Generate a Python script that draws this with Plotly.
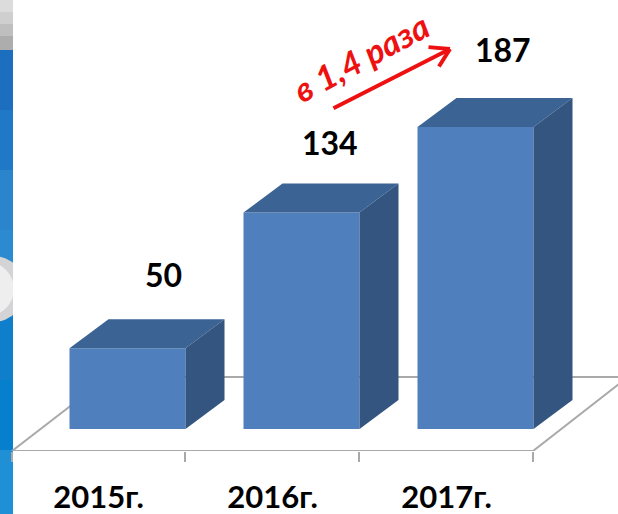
import plotly.graph_objects as go

categories = ["2015г.", "2016г.", "2017г."]
values = [50, 134, 187]
note_text = "в 1,4 раза"

W, H, B = 618, 514, 63
PX_U = 174.0      # px per category
PX_V = 1.615      # px per value unit
X0 = 98.5         # px of first category centre on the floor edge
Y0 = 429.0        # px of value 0 on the bar front
AX = H - B        # px of axis line

x_range = [(0 - X0) / PX_U, (W - X0) / PX_U]
y_range = [(Y0 - AX) / PX_V, Y0 / PX_V]

bar_shift = 29 / PX_U
bar_w = 116 / PX_U
dep_x = 39 / PX_U
dep_y = 29 / PX_V

FRONT, TOP, SIDE = "#4f80bd", "#3b6394", "#33557f"
FLOOR = "#a9a9a9"
RED = "#ee1111"

def xu(px):
    return (px - X0) / PX_U
def yv(py):
    return (Y0 - py) / PX_V
def xp(px):
    return px / W
def yp(py):
    return (AX - py) / AX

idx = list(range(len(categories)))
fig = go.Figure()
fig.add_trace(go.Bar(x=[i + bar_shift for i in idx], y=values, width=bar_w,
                     marker=dict(color=FRONT, line=dict(width=0)), hoverinfo="skip"))
for i, v in zip(idx, values):
    l = i + bar_shift - bar_w / 2
    r = i + bar_shift + bar_w / 2
    fig.add_trace(go.Scatter(x=[l, r, r + dep_x, l + dep_x, l], y=[v, v, v + dep_y, v + dep_y, v],
                             mode="lines", fill="toself", fillcolor=TOP, line=dict(width=0), hoverinfo="skip"))
    fig.add_trace(go.Scatter(x=[r, r + dep_x, r + dep_x, r, r], y=[0, dep_y, v + dep_y, v, 0],
                             mode="lines", fill="toself", fillcolor=SIDE, line=dict(width=0), hoverinfo="skip"))

shapes = []
# left decorative strip
bands = [(0, 12, "#dcdcdc"), (12, 24, "#cfcfcf"), (24, 36, "#bfbfbf"), (36, 50, "#adadad"),
         (50, 110, "#1c6fbf"), (110, 170, "#2079c6"), (170, 230, "#2a85cd"), (230, 300, "#2c8ad0"),
         (300, 380, "#0f7fcb"), (380, 450, "#067fcd"), (450, 514, "#1f8fd6")]
for a, b, c in bands:
    shapes.append(dict(type="rect", xref="paper", yref="paper", x0=0, x1=xp(13), y0=yp(a), y1=yp(b),
                       fillcolor=c, line_width=0, layer="below"))
shapes.append(dict(type="circle", xref="paper", yref="paper", x0=xp(-40), x1=xp(26), y0=yp(322), y1=yp(256),
                   fillcolor="#d4d4d6", line_width=0, layer="below"))
shapes.append(dict(type="circle", xref="paper", yref="paper", x0=xp(-40), x1=xp(14), y0=yp(316), y1=yp(262),
                   fillcolor="#eeeeee", line_width=0, layer="below"))
shapes.append(dict(type="rect", xref="paper", yref="paper", x0=xp(13), x1=xp(40), y0=yp(250), y1=yp(330),
                   fillcolor="#ffffff", line_width=0, layer="below"))
# floor
for (xa, ya, xb, yb) in [(12, 451, 533, 451), (12, 451, 108, 377), (533, 451, 628, 377), (108, 377, 628, 377)]:
    shapes.append(dict(type="line", xref="x", yref="y", x0=xu(xa), x1=xu(xb), y0=yv(ya), y1=yv(yb),
                       line=dict(color=FLOOR, width=2), layer="below"))

annots = []
label_dx = [36, 28, 27]
label_dy = [74, 70, 77]
for i, v, dx, dy in zip(idx, values, label_dx, label_dy):
    annots.append(dict(x=i + bar_shift, y=v, text=str(v), showarrow=False, xshift=dx, yshift=dy,
                       font=dict(family="Lato", size=32, color="#000000", weight="bold")))
for (tx, ty) in [(332, 109), (427, 47), (438, 68)]:
    annots.append(dict(x=xu(450), y=yv(49), ax=xu(tx), ay=yv(ty), axref="x", ayref="y", xref="x", yref="y",
                       text="", showarrow=True, arrowhead=0, arrowwidth=4, arrowcolor=RED))
annots.append(dict(x=xu(360), y=yv(57), xref="x", yref="y", text="<b><i>%s</i></b>" % note_text, showarrow=False,
                   textangle=-28, font=dict(family="Lato", size=34, color=RED)))

fig.update_layout(
    width=W, height=H, margin=dict(l=0, r=0, t=0, b=B), showlegend=False,
    paper_bgcolor="#ffffff", plot_bgcolor="rgba(0,0,0,0)",
    shapes=shapes, annotations=annots,
    xaxis=dict(range=x_range, tickvals=idx, ticktext=categories, ticks="", showgrid=False, zeroline=False,
               showline=False, ticklabelstandoff=25, automargin=False,
               tickfont=dict(family="Lato", size=31, color="#000000", weight="bold"),
               minor=dict(tickvals=[xu(12), xu(185), xu(359), xu(533)], ticks="outside", ticklen=10,
                          tickcolor=FLOOR, tickwidth=2, showgrid=False)),
    yaxis=dict(range=y_range, visible=False, showgrid=False, zeroline=False),
)
fig.write_html("out.html", config=dict(displayModeBar=False),
               post_script="document.body.style.margin='0';document.body.style.overflow='hidden';")
